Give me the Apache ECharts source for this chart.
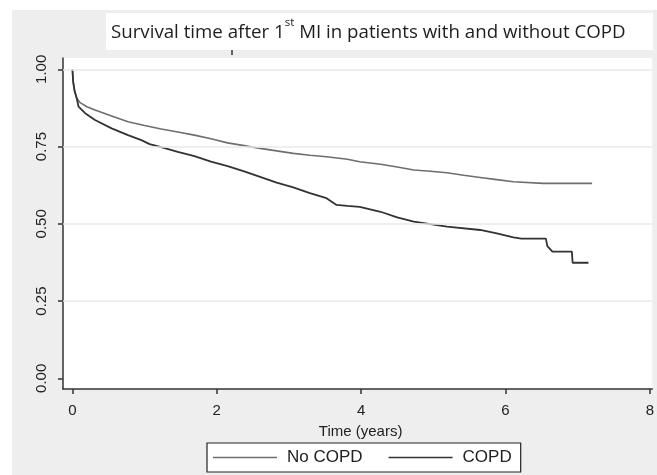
<!DOCTYPE html>
<html>
<head>
<meta charset="utf-8">
<script src="https://cdn.jsdelivr.net/npm/echarts@6/dist/echarts.min.js"></script>
<style>
html,body{margin:0;padding:0;background:#fff;}
#c{width:657px;height:475px;}
</style>
</head>
<body>
<div id="c"></div>
<script>
// Data
const titleMain = 'Survival time after 1';
const titleSup = 'st';
const titleRest = ' MI in patients with and without COPD';
const xAxisTitle = 'Time (years)';
const seriesNames = ['No COPD', 'COPD'];
const xTickValues = [0, 2, 4, 6, 8];
const yTickValues = [0, 0.25, 0.5, 0.75, 1];
const yGridValues = [0.25, 0.5, 0.75, 1];

const tNoCopd = [0, 0.01, 0.03, 0.06, 0.107, 0.2, 0.313, 0.543, 0.77, 1.0, 1.23, 1.46, 1.69, 1.92, 2.15, 2.38, 2.60, 2.83, 3.06, 3.29, 3.52, 3.81, 3.98, 4.27, 4.50, 4.73, 4.96, 5.19, 5.42, 5.65, 5.88, 6.11, 6.52, 7.2];
const sNoCopd = [1.0, 0.96, 0.93, 0.906, 0.892, 0.879, 0.868, 0.849, 0.830, 0.818, 0.807, 0.797, 0.787, 0.775, 0.762, 0.753, 0.744, 0.736, 0.728, 0.722, 0.717, 0.709, 0.701, 0.693, 0.684, 0.674, 0.670, 0.665, 0.657, 0.650, 0.643, 0.636, 0.631, 0.631];

const tCopd = [0, 0.01, 0.03, 0.06, 0.085, 0.176, 0.313, 0.543, 0.77, 0.955, 1.07, 1.23, 1.46, 1.69, 1.92, 2.15, 2.38, 2.60, 2.83, 3.06, 3.29, 3.52, 3.66, 3.81, 3.98, 4.27, 4.50, 4.73, 5.19, 5.65, 5.88, 6.11, 6.22, 6.56, 6.58, 6.65, 6.92, 6.93, 7.15];
const sCopd = [1.0, 0.96, 0.93, 0.906, 0.879, 0.858, 0.836, 0.809, 0.787, 0.771, 0.758, 0.748, 0.733, 0.719, 0.701, 0.687, 0.670, 0.652, 0.633, 0.618, 0.599, 0.583, 0.561, 0.558, 0.555, 0.539, 0.521, 0.507, 0.491, 0.480, 0.469, 0.456, 0.452, 0.452, 0.428, 0.410, 0.410, 0.374, 0.374];

const zip = (a, b) => a.map((v, i) => [v, b[i]]);
const fontFam = '"Liberation Sans", Arial, sans-serif';
const titleFam = '"Open Sans", Lato, sans-serif';

const chart = echarts.init(document.getElementById('c'), null, {renderer: 'canvas'});
chart.setOption({
  backgroundColor: '#ffffff',
  animation: false,
  graphic: [
    {type: 'rect', z: -10, shape: {x: 12, y: 10, width: 645, height: 465}, style: {fill: '#eeeeee'}, silent: true},
    {type: 'rect', z: -5, shape: {x: 106, y: 13, width: 547, height: 37}, style: {fill: '#ffffff'}, silent: true},
    {type: 'line', z: -4, shape: {x1: 232, y1: 50, x2: 232, y2: 55}, style: {stroke: '#333', lineWidth: 1.5}, silent: true},
    {type: 'text', left: 111, top: 17, z: 5, style: {
      text: '{a|' + titleMain + '}{s|' + titleSup + '}{a|' + titleRest + '}',
      rich: {
        a: {fontFamily: titleFam, fontSize: 18.7, fill: '#1e1e1e', lineHeight: 25, verticalAlign: 'bottom'},
        s: {fontFamily: titleFam, fontSize: 11.5, fill: '#1e1e1e', lineHeight: 25, verticalAlign: 'top'}
      }
    }}
  ],
  grid: {left: 63, right: 0, top: 58, bottom: 86, show: true, backgroundColor: '#ffffff', borderWidth: 0, containLabel: false},
  legend: {
    data: seriesNames.map(n => ({name: n, icon: 'rect'})),
    left: 207, top: 443,
    orient: 'horizontal',
    backgroundColor: '#ffffff',
    borderColor: '#222', borderWidth: 1.2,
    padding: [6, 9, 6, 6],
    itemWidth: 64, itemHeight: 1.6, itemGap: 26,
    textStyle: {fontFamily: fontFam, fontSize: 17, color: '#222', padding: [0, 0, 0, 5]}
  },
  xAxis: {
    type: 'value', min: -0.1306, max: 8.034,
    name: xAxisTitle, nameLocation: 'middle', nameGap: 35,
    nameTextStyle: {fontFamily: fontFam, fontSize: 15, color: '#222', padding: [0, 0, 0, 6]},
    axisLine: {show: true, onZero: false, lineStyle: {color: '#333', width: 1.5}},
    axisTick: {show: true, customValues: xTickValues, length: 5, lineStyle: {color: '#333', width: 1.5}},
    axisLabel: {customValues: xTickValues, fontFamily: fontFam, fontSize: 15, color: '#222', margin: 14, showMinLabel: true, showMaxLabel: true},
    splitLine: {show: false}
  },
  yAxis: {
    type: 'value', min: -0.0346, max: 1.0366,
    axisLine: {show: true, onZero: false, lineStyle: {color: '#333', width: 1.5}},
    axisTick: {show: true, customValues: yTickValues, length: 5, lineStyle: {color: '#333', width: 1.5}},
    axisLabel: {customValues: yTickValues, rotate: 90, fontFamily: fontFam, fontSize: 15, color: '#222', margin: 14,
      formatter: v => v.toFixed(2)},
    splitLine: {show: false}
  },
  series: [
    {
      name: '_grid', type: 'line', data: [], z: 1, silent: true,
      markLine: {silent: true, symbol: 'none', label: {show: false},
        lineStyle: {color: '#e9e9e9', width: 1.5, type: 'solid'},
        data: yGridValues.map(v => ({yAxis: v}))}
    },
    {
      name: seriesNames[0], type: 'line', data: zip(tNoCopd, sNoCopd), symbol: 'none', z: 3,
      lineStyle: {color: '#6e6e6e', width: 1.6}, itemStyle: {color: '#6e6e6e'}
    },
    {
      name: seriesNames[1], type: 'line', data: zip(tCopd, sCopd), symbol: 'none', z: 4,
      lineStyle: {color: '#333333', width: 1.8}, itemStyle: {color: '#333333'}
    }
  ]
});
</script>
</body>
</html>
